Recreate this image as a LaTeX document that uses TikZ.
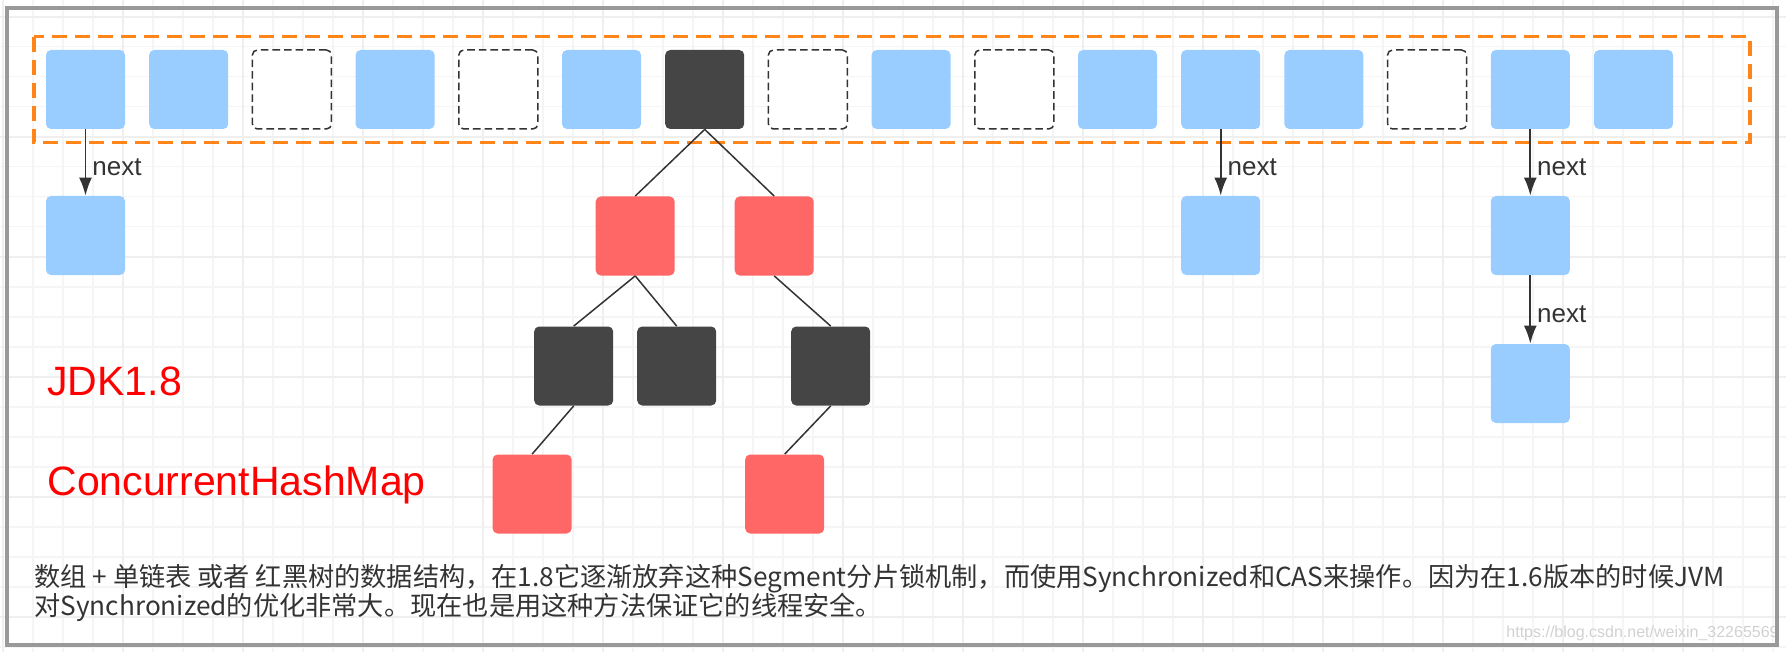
\documentclass[tikz,border=0pt]{standalone}
\usepackage{fontspec}
\setmainfont{Liberation Sans}
\newfontfamily\cjkfont{Noto Sans CJK SC}
\usetikzlibrary{arrows.meta}
\definecolor{boxblue}{HTML}{99CCFF}
\definecolor{boxred}{HTML}{FF6666}
\definecolor{boxblack}{HTML}{454545}
\definecolor{rowline}{HTML}{FF851B}
\definecolor{linegray}{HTML}{333333}
\definecolor{framegray}{HTML}{999999}
\definecolor{gridgray}{HTML}{F5F5F5}
\definecolor{gridmajor}{HTML}{EFEFEF}

\begin{document}
\begin{tikzpicture}[x=0.5pt,y=-0.5pt,
    edge from parent path={(\tikzparentnode.south) -- (\tikzchildnode.north)}]
    \tikzstyle{cell}=[rectangle, minimum size=39.5pt, inner sep=0pt, rounded corners=2.5pt]
    \tikzstyle{bluebox}=[cell, fill=boxblue]
    \tikzstyle{redbox}=[cell, fill=boxred]
    \tikzstyle{blackbox}=[cell, fill=boxblack]
    \tikzstyle{emptybox}=[cell, fill=white, draw=linegray, line width=0.75pt, dash pattern=on 3.8pt off 2pt]
    \tikzstyle{nextarrow}=[draw=linegray, line width=0.9pt, -{Latex[length=9pt,width=6.5pt]}]
    \tikzstyle{nextlabel}=[right, inner sep=3pt, yshift=-2.2pt, font=\fontsize{13}{15}\selectfont, text=linegray]
    \tikzstyle{redtitle}=[anchor=base west, inner sep=0pt, text=red, font=\fontsize{20.5}{24}\selectfont]
    \tikzstyle{note}=[anchor=base west, inner sep=0pt, text=linegray, font=\cjkfont\fontsize{13.1}{15}\selectfont]
    \tikzstyle{level 1}=[sibling distance=69.5pt, level distance=73.25pt]
    \tikzstyle{level 2}=[sibling distance=51.5pt, level distance=65pt]
    \tikzstyle{level 3}=[sibling distance=46pt, level distance=64pt]
    \tikzstyle{edge from parent}=[draw=linegray, line width=0.75pt]

    \useasboundingbox (0,0) rectangle (1786,652);
    \foreach \gx in {2.7,32.7,...,1786} \draw[gridgray, line width=0.8pt] (\gx,0) -- (\gx,652);
    \foreach \gy in {16.7,46.7,...,652} \draw[gridgray, line width=0.8pt] (0,\gy) -- (1786,\gy);
    \foreach \gx in {2.7,122.7,...,1786} \draw[gridmajor, line width=0.9pt] (\gx,0) -- (\gx,652);
    \foreach \gy in {16.7,136.7,...,652} \draw[gridmajor, line width=0.9pt] (0,\gy) -- (1786,\gy);

    \draw[rowline, line width=1.7pt, dash pattern=on 7.5pt off 4pt] (34,36.7) rectangle (1750,142.7);

    \node[bluebox] (b1) at (85.5,89.5) {};
    \node[bluebox] (b2) at (188.7,89.5) {};
    \node[emptybox] (b3) at (291.9,89.5) {};
    \node[bluebox] (b4) at (395.1,89.5) {};
    \node[emptybox] (b5) at (498.3,89.5) {};
    \node[bluebox] (b6) at (601.5,89.5) {};
    \node[emptybox] (b8) at (807.9,89.5) {};
    \node[bluebox] (b9) at (911.1,89.5) {};
    \node[emptybox] (b10) at (1014.3,89.5) {};
    \node[bluebox] (b11) at (1117.5,89.5) {};
    \node[bluebox] (b12) at (1220.7,89.5) {};
    \node[bluebox] (b13) at (1323.9,89.5) {};
    \node[emptybox] (b14) at (1427.1,89.5) {};
    \node[bluebox] (b15) at (1530.3,89.5) {};
    \node[bluebox] (b16) at (1633.5,89.5) {};

    \node[blackbox] (b7) at (704.7,89.5) {}
    child {
      node[redbox] (r1) {}
      child {
        node[blackbox, xshift=-5pt] (k1) {}
        child {
          node[redbox, xshift=2.2pt] (r3) {}
        }
        child[missing] {}
      }
      child {
        node[blackbox, xshift=-5pt] (k2) {}
      }
    }
    child {
      node[redbox] (r2) {}
      child[missing] {}
      child {
        node[blackbox, xshift=2.5pt] (k3) {}
        child {
          node[redbox] (r4) {}
        }
        child[missing] {}
      }
    }
    ;

    \node[bluebox] (c1) at (85.5,235.5) {};
    \node[bluebox] (c12) at (1220.7,235.5) {};
    \node[bluebox] (c15) at (1530.3,235.5) {};
    \node[bluebox] (c15b) at (1530.3,383.5) {};
    \draw[nextarrow] (b1) -- node[nextlabel] {next} (c1);
    \draw[nextarrow] (b12) -- node[nextlabel] {next} (c12);
    \draw[nextarrow] (b15) -- node[nextlabel] {next} (c15);
    \draw[nextarrow] (c15) -- node[nextlabel] {next} (c15b);

    \node[redtitle] (jdk) at (47,395) {JDK1.8};
    \node[redtitle] (chm) at (47,495) {ConcurrentHashMap};

    \node[note] (note1) at (34,586.5) {数组 + 单链表 或者 红黑树的数据结构，在1.8它逐渐放弃这种Segment分片锁机制，而使用Synchronized和CAS来操作。因为在1.6版本的时候JVM};
    \node[note] (note2) at (34,615.5) {对Synchronized的优化非常大。现在也是用这种方法保证它的线程安全。};

    \node[anchor=base east, inner sep=0pt, text=black!18, font=\fontsize{8}{10}\selectfont] (mark) at (1779,637.5) {https://blog.csdn.net/weixin\_32265569};

    \draw[framegray, line width=2pt] (7.3,8) rectangle (1777,645.3);
\end{tikzpicture}
\end{document}
